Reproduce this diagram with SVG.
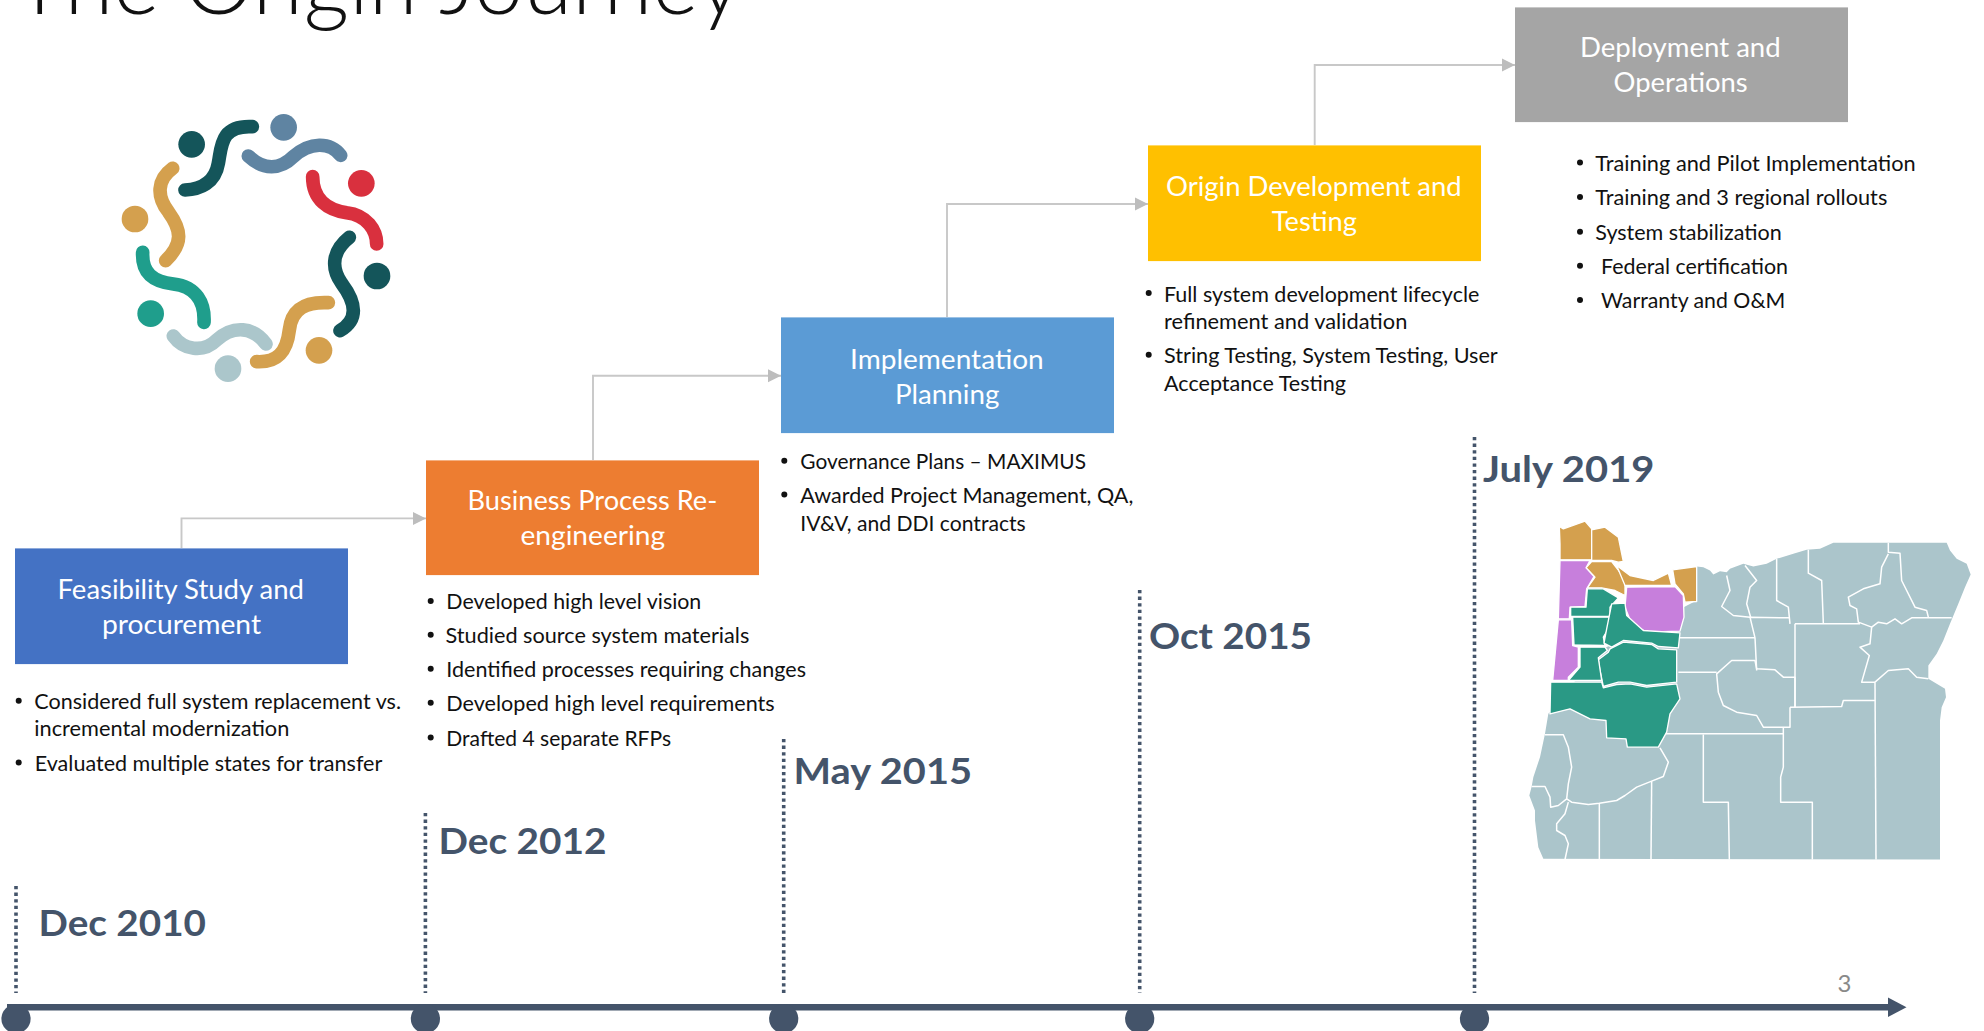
<svg xmlns="http://www.w3.org/2000/svg" width="1984" height="1031" viewBox="0 0 1984 1031">
<style>
text{font-family:"Lato","Carlito","Open Sans","Liberation Sans",sans-serif}
.bx{font-size:27px;fill:#fff;font-weight:400}
.b{font-size:21px;fill:#111}
.d{font-size:37px;font-weight:700;fill:#44546A}
.c{fill:none;stroke:#c8c8c8;stroke-width:1.9}
.dot{stroke:#44546A;stroke-width:3.6;stroke-dasharray:3.3 3.3;fill:none}
.blt{fill:#111}
.sq{fill:none;stroke-width:41;stroke-linecap:round}
.cty{fill:none;stroke:#fff;stroke-width:4.5;stroke-linejoin:round}
.cp{stroke:#fff;stroke-width:4;stroke-linejoin:round}
</style>
<defs>
<marker id="ah" markerUnits="userSpaceOnUse" markerWidth="13" markerHeight="14" refX="13" refY="7" orient="auto"><path d="M0 0.5L13 7L0 13.5Z" fill="#bdbdbd"/></marker>
</defs>
<rect width="1984" height="1031" fill="#fff"/>
<text id="title" x="14" y="13.5" font-size="88" font-weight="300" fill="#111" textLength="728" lengthAdjust="spacingAndGlyphs">The Origin Journey</text>

<g id="logo" transform="scale(0.33333)">
<circle cx="575" cy="433" r="40" fill="#14555a"/>
<path class="sq" stroke="#14555a" d="M757 380C660 375 665 440 655 490C645 550 600 568 555 570"/>
<circle cx="851" cy="382" r="40" fill="#5f84a2"/>
<path class="sq" stroke="#5f84a2" d="M745 468C790 510 840 510 880 470C930 425 990 425 1022 466"/>
<circle cx="1084" cy="550" r="40" fill="#d9303e"/>
<path class="sq" stroke="#d9303e" d="M938 530C938 600 985 630 1040 638C1100 645 1130 690 1130 732"/>
<circle cx="1131" cy="828" r="40" fill="#14555a"/>
<path class="sq" stroke="#14555a" d="M1048 712C1000 750 990 800 1025 850C1070 910 1075 960 1020 992"/>
<circle cx="957" cy="1051" r="40" fill="#d4a04e"/>
<path class="sq" stroke="#d4a04e" d="M985 908C920 905 875 925 868 990C860 1060 830 1088 770 1085"/>
<circle cx="684" cy="1106" r="40" fill="#abc6cb"/>
<path class="sq" stroke="#abc6cb" d="M520 1008C550 1050 610 1060 650 1020C700 975 760 980 798 1032"/>
<circle cx="452" cy="941" r="40" fill="#1f9e8c"/>
<path class="sq" stroke="#1f9e8c" d="M428 757C425 820 460 845 520 852C590 860 615 910 612 967"/>
<circle cx="405" cy="657" r="40" fill="#d4a04e"/>
<path class="sq" stroke="#d4a04e" d="M518 505C470 540 470 590 505 635C545 690 550 730 497 782"/>
</g>

<g id="connectors">
<path class="c" marker-end="url(#ah)" d="M181.5 548V518.4H426"/>
<path class="c" marker-end="url(#ah)" d="M593 460V375.7H781"/>
<path class="c" marker-end="url(#ah)" d="M947 317V204H1148"/>
<path class="c" marker-end="url(#ah)" d="M1314.7 145V65H1515"/>
</g>

<g id="node-feasibility">
<rect x="15" y="548.4" width="333" height="115.7" fill="#4472C4"/>
<text class="bx" x="57.5" y="598.6" textLength="246.5" lengthAdjust="spacingAndGlyphs">Feasibility Study and</text>
<text class="bx" x="102" y="634.2" textLength="159" lengthAdjust="spacingAndGlyphs">procurement</text>
<circle class="blt" cx="18.7" cy="700.7" r="3"/>
<text class="b" x="34.3" y="709.2" textLength="366.7" lengthAdjust="spacingAndGlyphs">Considered full system replacement vs.</text>
<text class="b" x="34.3" y="736.2" textLength="255" lengthAdjust="spacingAndGlyphs">incremental modernization</text>
<circle class="blt" cx="18.7" cy="762.4" r="3"/>
<text class="b" x="34.8" y="770.9" textLength="347.5" lengthAdjust="spacingAndGlyphs">Evaluated multiple states for transfer</text>
</g>

<g id="node-bpr">
<rect x="426" y="460.4" width="333" height="114.7" fill="#ED7D31"/>
<text class="bx" x="467.5" y="510.2" textLength="249.8" lengthAdjust="spacingAndGlyphs">Business Process Re-</text>
<text class="bx" x="520.5" y="545.2" textLength="144.5" lengthAdjust="spacingAndGlyphs">engineering</text>
<circle class="blt" cx="430.7" cy="601" r="3"/>
<text class="b" x="446.3" y="609.2" textLength="255" lengthAdjust="spacingAndGlyphs">Developed high level vision</text>
<circle class="blt" cx="430.7" cy="634.7" r="3"/>
<text class="b" x="445.6" y="643.2" textLength="303.7" lengthAdjust="spacingAndGlyphs">Studied source system materials</text>
<circle class="blt" cx="430.7" cy="668.7" r="3"/>
<text class="b" x="446.3" y="677.2" textLength="359.7" lengthAdjust="spacingAndGlyphs">Identified processes requiring changes</text>
<circle class="blt" cx="430.7" cy="702.7" r="3"/>
<text class="b" x="446.3" y="711.2" textLength="328.4" lengthAdjust="spacingAndGlyphs">Developed high level requirements</text>
<circle class="blt" cx="430.7" cy="737.4" r="3"/>
<text class="b" x="446.3" y="745.9" textLength="224.7" lengthAdjust="spacingAndGlyphs">Drafted 4 separate RFPs</text>
</g>

<g id="node-planning">
<rect x="781" y="317.4" width="333" height="115.7" fill="#5B9BD5"/>
<text class="bx" x="850" y="369.2" textLength="193.7" lengthAdjust="spacingAndGlyphs">Implementation</text>
<text class="bx" x="895" y="404.2" textLength="104.3" lengthAdjust="spacingAndGlyphs">Planning</text>
<circle class="blt" cx="784.3" cy="460.7" r="3"/>
<text class="b" x="800.3" y="469.2" textLength="285.7" lengthAdjust="spacingAndGlyphs">Governance Plans – MAXIMUS</text>
<circle class="blt" cx="784.3" cy="494.4" r="3"/>
<text class="b" x="800.3" y="503.2" textLength="333" lengthAdjust="spacingAndGlyphs">Awarded Project Management, QA,</text>
<text class="b" x="800.3" y="530.9" textLength="225.4" lengthAdjust="spacingAndGlyphs">IV&amp;V, and DDI contracts</text>
</g>

<g id="node-development">
<rect x="1148" y="145.4" width="333" height="115.7" fill="#FFC000"/>
<text class="bx" x="1166" y="195.9" textLength="295.7" lengthAdjust="spacingAndGlyphs">Origin Development and</text>
<text class="bx" x="1271.8" y="230.9" textLength="85.2" lengthAdjust="spacingAndGlyphs">Testing</text>
<circle class="blt" cx="1148.7" cy="293" r="3"/>
<text class="b" x="1164" y="301.6" textLength="315.3" lengthAdjust="spacingAndGlyphs">Full system development lifecycle</text>
<text class="b" x="1164" y="329.2" textLength="243.3" lengthAdjust="spacingAndGlyphs">refinement and validation</text>
<circle class="blt" cx="1148.7" cy="354.7" r="3"/>
<text class="b" x="1164" y="363.2" textLength="333.7" lengthAdjust="spacingAndGlyphs">String Testing, System Testing, User</text>
<text class="b" x="1164" y="390.9" textLength="182" lengthAdjust="spacingAndGlyphs">Acceptance Testing</text>
</g>

<g id="node-deployment">
<rect x="1515" y="7.4" width="333" height="114.7" fill="#A5A5A5"/>
<text class="bx" x="1580" y="56.9" textLength="200.7" lengthAdjust="spacingAndGlyphs">Deployment and</text>
<text class="bx" x="1613.5" y="91.9" textLength="134.2" lengthAdjust="spacingAndGlyphs">Operations</text>
<circle class="blt" cx="1580" cy="162.4" r="3"/>
<text class="b" x="1595.3" y="170.9" textLength="320.4" lengthAdjust="spacingAndGlyphs">Training and Pilot Implementation</text>
<circle class="blt" cx="1580" cy="197" r="3"/>
<text class="b" x="1595.3" y="204.9" textLength="292" lengthAdjust="spacingAndGlyphs">Training and 3 regional rollouts</text>
<circle class="blt" cx="1580" cy="231.7" r="3"/>
<text class="b" x="1595.3" y="239.6" textLength="186.4" lengthAdjust="spacingAndGlyphs">System stabilization</text>
<circle class="blt" cx="1580" cy="265.7" r="3"/>
<text class="b" x="1601" y="274.2" textLength="187" lengthAdjust="spacingAndGlyphs">Federal certification</text>
<circle class="blt" cx="1580" cy="300" r="3"/>
<text class="b" x="1601" y="308.2" textLength="184.3" lengthAdjust="spacingAndGlyphs">Warranty and O&amp;M</text>
</g>

<g id="timeline">
<path class="dot" d="M16 886V993"/>
<path class="dot" d="M425.4 813V993"/>
<path class="dot" d="M783.7 739V993"/>
<path class="dot" d="M1139.7 590V993"/>
<path class="dot" d="M1474.5 437V993"/>
<rect x="7" y="1004" width="1882" height="6.5" fill="#44546A"/>
<path d="M1888 997.4L1906.5 1007.2L1888 1017Z" fill="#44546A"/>
<circle cx="16" cy="1018.7" r="14.6" fill="#44546A"/>
<circle cx="425.4" cy="1018.7" r="14.6" fill="#44546A"/>
<circle cx="783.7" cy="1018.7" r="14.6" fill="#44546A"/>
<circle cx="1139.7" cy="1018.7" r="14.6" fill="#44546A"/>
<circle cx="1474.5" cy="1018.7" r="14.6" fill="#44546A"/>
<text class="d" x="38.5" y="936" textLength="167.5" lengthAdjust="spacingAndGlyphs">Dec 2010</text>
<text class="d" x="438.5" y="854" textLength="168" lengthAdjust="spacingAndGlyphs">Dec 2012</text>
<text class="d" x="793.5" y="784.3" textLength="178.5" lengthAdjust="spacingAndGlyphs">May 2015</text>
<text class="d" x="1149" y="649" textLength="163" lengthAdjust="spacingAndGlyphs">Oct 2015</text>
<text class="d" x="1483" y="482" textLength="171.5" lengthAdjust="spacingAndGlyphs">July 2019</text>
<text x="1837.5" y="992" font-size="24" fill="#898989">3</text>
</g>

<g id="map" transform="translate(1500 500.5) scale(0.33333)">
<path fill="#abc5cb" d="M590 198L610 200L630 210L640 222L660 212L680 215L690 205L730 190L760 198L800 190L830 175L880 160L920 148L960 145L1000 127L1340 127L1350 150L1370 175L1400 190L1412 222L1395 260L1375 310L1350 370L1330 420L1310 460L1285 495L1285 535L1310 550L1335 565L1338 590L1325 620L1320 660L1320 1077L130 1075L115 1040L105 960L105 930L88 885L95 858L100 830L120 770L135 700L145 640L300 450L590 300Z"/>
<path class="cty" d="M135 703H190L205 740L215 800L205 850L200 895"/>
<path class="cty" d="M95 858H135L150 890L152 920L175 915L200 895L215 905L265 912L298 908L350 900L375 885L410 860L455 842L490 828L505 785L480 742"/>
<path class="cty" d="M205 905L195 940L170 970L170 990L195 1005L205 1030L195 1077"/>
<path class="cty" d="M298 908V1077"/>
<path class="cty" d="M455 842L453 1077"/>
<path class="cty" d="M610 702V905H685L688 1077"/>
<path class="cty" d="M480 700H850"/>
<path class="cty" d="M850 680V800L842 830V905H937V1077"/>
<path class="cty" d="M1125 545L1128 1077"/>
<path class="cty" d="M1125 545L1165 510L1225 505L1250 530L1285 535"/>
<path class="cty" d="M870 620V680H790L770 645L710 635L670 615L655 575L650 520L695 480H765L770 505L825 508L850 530H885V620"/>
<path class="cty" d="M870 620L1025 618L1030 600H1125"/>
<path class="cty" d="M885 370V620"/>
<path class="cty" d="M885 370H1080"/>
<path class="cty" d="M535 515H650"/>
<path class="cty" d="M530 412H765"/>
<path class="cty" d="M770 510L765 412L750 350L870 352"/>
<path class="cty" d="M750 350L700 345L665 318L690 270L680 225"/>
<path class="cty" d="M735 195L770 240L750 260L740 310L752 350"/>
<path class="cty" d="M830 175V300L865 320L870 370"/>
<path class="cty" d="M925 148V218L965 240L970 368"/>
<path class="cty" d="M1165 127V155L1200 158L1205 240L1245 320L1280 330L1285 350"/>
<path class="cty" d="M1165 160L1145 200L1140 250L1090 265L1045 290L1050 315L1070 325L1075 365L1115 380L1135 365L1160 370L1185 355L1205 370L1235 352H1355"/>
<path class="cty" d="M1115 380L1110 430L1080 440L1108 465L1085 545H1125"/>
<g fill="#d4a04e">
<path class="cp" d="M178 78L190 85L255 62L275 85V178H180V130Z"/>
<path class="cp" d="M275 88L315 80L355 110L370 183L355 185L335 180H275Z"/>
<path class="cp" d="M275 183H335L375 235V285L345 270L305 262H262L285 230L258 202Z"/>
<path class="cp" d="M350 195L390 225L460 240L505 218L515 255H375Z"/>
<path class="cp" d="M518 208L590 198V303L555 305L550 280L525 250Z"/>
</g>
<g fill="#c77fdc">
<path class="cp" d="M180 180H270L258 202L282 228L260 265L255 318L210 320L208 355H175Z"/>
<path class="cp" d="M175 358H215L218 435L235 440V500L205 530V540H158Z"/>
<path class="cp" d="M380 260L525 258L550 285L552 350L540 392L440 395L395 370L375 320Z"/>
</g>
<g fill="#2a9985">
<path class="cp" d="M262 265L310 265L355 292L330 320V348H212V320H258Z"/>
<path class="cp" d="M218 350H328L325 385L310 410L315 435L222 433Z"/>
<path class="cp" d="M335 310L375 308L380 345L430 390L540 397L535 442L475 438L455 428L370 420L335 440L312 428L320 385Z"/>
<path class="cp" d="M330 445L370 425L455 432L475 445L530 448V545L440 555L390 545H355L310 558L300 510L295 478L325 455Z"/>
<path class="cp" d="M240 440H315L322 450L295 472L305 540H205L240 500Z"/>
<path class="cp" d="M152 545H305L310 562L350 552L390 550L440 560L530 550L540 595L510 640L500 695L475 740H382L378 715L320 712L318 660L270 655L210 625L150 640Z"/>
</g>
</g>
</svg>
